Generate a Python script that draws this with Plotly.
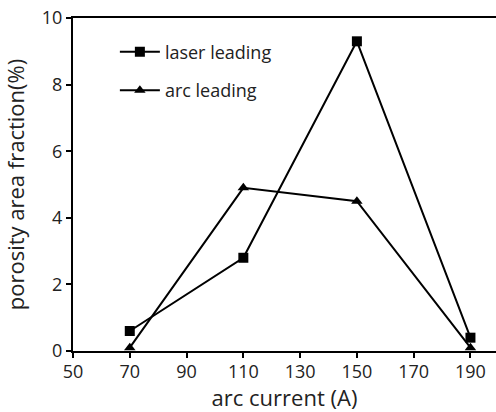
import plotly.graph_objects as go

currents = [70, 110, 150, 190]
laser_leading = [0.6, 2.8, 9.3, 0.4]
arc_leading = [0.1, 4.9, 4.5, 0.1]
x_ticks = [50, 70, 90, 110, 130, 150, 170, 190]
y_ticks = [0, 2, 4, 6, 8, 10]

font_family = "Open Sans, Noto Sans, sans-serif"

fig = go.Figure()
fig.add_trace(go.Scatter(
    x=currents, y=laser_leading, name="laser leading", mode="lines+markers",
    legendgroup="a",
    line=dict(color="black", width=2),
    marker=dict(symbol="square", size=10, color="black"),
    cliponaxis=False,
))
fig.add_trace(go.Scatter(
    x=currents, y=arc_leading, name="arc leading", mode="lines+markers",
    legendgroup="b",
    line=dict(color="black", width=2),
    marker=dict(symbol="triangle-up", size=10, color="black"),
    cliponaxis=False,
))

fig.update_layout(
    width=496, height=412,
    margin=dict(l=73, r=0, t=18, b=61),
    paper_bgcolor="white", plot_bgcolor="white",
    font=dict(family=font_family, size=18, color="#222"),
    showlegend=True,
    legend=dict(x=0.099, y=0.953, xanchor="left", yanchor="top",
                bgcolor="rgba(0,0,0,0)", itemwidth=40,
                font=dict(size=18, color="#222"), tracegroupgap=12),
    xaxis=dict(range=[50, 199], tickvals=x_ticks, showgrid=False, zeroline=False,
               showline=True, linecolor="black", linewidth=2, mirror=True,
               ticks="outside", ticklen=5, tickwidth=2, tickcolor="black",
               ticklabelstandoff=-2,
               automargin=False,
               title=dict(text="arc current (A)")),
    yaxis=dict(range=[0, 10], tickvals=y_ticks, showgrid=False, zeroline=False,
               showline=True, linecolor="black", linewidth=2,
               ticks="outside", ticklen=5, tickwidth=2, tickcolor="black",
               automargin=False,
               title=dict(text="porosity area fraction(%)")),
)

fig.write_html(
    "out.html",
    config={"displayModeBar": False},
    post_script="document.body.style.margin='0';document.body.style.overflow='hidden';",
)
